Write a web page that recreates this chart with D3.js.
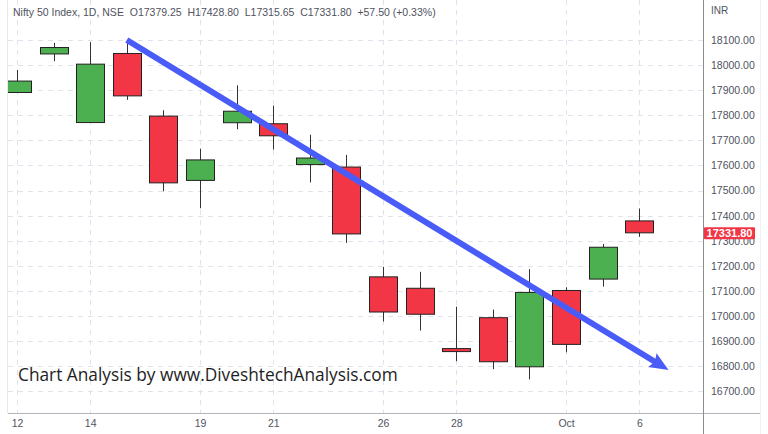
<!DOCTYPE html>
<html>
<head>
<meta charset="utf-8">
<script src="https://cdn.jsdelivr.net/npm/d3@7"></script>
<style>
  html,body{margin:0;padding:0;background:#fff;}
  svg{display:block;}
</style>
</head>
<body>
<svg id="chart" width="768" height="434"></svg>
<script>
// ---- data ----
const dates = ["Sep 12","Sep 13","Sep 14","Sep 15","Sep 16","Sep 19","Sep 20","Sep 21","Sep 22","Sep 23",
               "Sep 26","Sep 27","Sep 28","Sep 29","Sep 30","Oct 3","Oct 4","Oct 6"];
const opens  = [17890.85,18044.45,17771.15,18046.35,17796.80,17540.65,17770.40,17766.35,17603.70,17593.85,
                17156.30,17110.90,16870.55,16993.60,16798.05,17102.10,17147.45,17379.25];
const highs  = [17980.55,18088.30,18091.55,18096.15,17820.05,17667.20,17919.30,17838.35,17722.75,17642.15,
                17196.40,17176.45,17037.60,17026.05,17187.10,17114.65,17287.30,17428.80];
const lows   = [17889.15,18015.45,17771.15,17861.50,17497.25,17429.70,17744.40,17663.60,17532.45,17291.65,
                16978.30,16942.35,16820.40,16788.60,16747.70,16855.55,17117.30,17315.65];
const closes = [17936.35,18070.05,18003.75,17877.40,17530.85,17622.25,17816.25,17718.35,17629.80,17327.35,
                17016.30,17007.40,16858.60,16818.10,17094.35,16887.35,17274.30,17331.80];
const xTickIndex  = [0,2,5,7,10,12,15,17];
const xTickLabels = ["12","14","19","21","26","28","Oct","6"];
const yTicks = [16700,16800,16900,17000,17100,17200,17300,17400,17500,17600,17700,17800,17900,18000,18100];
const trendIndex = [3, 17.8];
const trendPrice = [18100, 16785];
const lastPrice = 17331.80;
const headerText = "Nifty 50 Index, 1D, NSE  O17379.25  H17428.80  L17315.65  C17331.80  +57.50 (+0.33%)";
const watermark = "Chart Analysis by www.DiveshtechAnalysis.com";

// ---- layout ----
const W = 768, H = 434;
const plotL = 8, plotR = 703, plotT = 0, plotB = 413;
const svg = d3.select("#chart");

const x = d3.scaleLinear().domain([0, 17]).range([17, 639.3]);
const y = d3.scaleLinear().domain([16700, 18100]).range([391.4, 40]);

const defs = svg.append("defs");
defs.append("clipPath").attr("id","plotclip").append("rect")
  .attr("x",plotL).attr("y",plotT).attr("width",plotR-plotL).attr("height",plotB-plotT);

const bodyW = 28;
const green = "#4caf50", red = "#f23645";

// grid
const grid = svg.append("g");
grid.selectAll("line.h").data(yTicks).join("line")
  .attr("x1",plotL).attr("x2",plotR)
  .attr("y1",d=>Math.round(y(d))+0.5).attr("y2",d=>Math.round(y(d))+0.5)
  .attr("stroke","#e0e3eb").attr("stroke-dasharray","5,5");
grid.selectAll("line.v").data(xTickIndex).join("line")
  .attr("x1",d=>Math.round(x(d))+0.5).attr("x2",d=>Math.round(x(d))+0.5)
  .attr("y1",plotT).attr("y2",plotB)
  .attr("stroke","#e0e3eb").attr("stroke-dasharray","5,5");

// frame lines
svg.append("line").attr("x1",7.5).attr("x2",7.5).attr("y1",0).attr("y2",plotB).attr("stroke","#e6e8ee");
svg.append("line").attr("x1",760.5).attr("x2",760.5).attr("y1",0).attr("y2",H).attr("stroke","#eef0f4");
svg.append("line").attr("x1",plotL).attr("x2",760).attr("y1",plotB+0.5).attr("y2",plotB+0.5).attr("stroke","#b2b5be").attr("stroke-width",1.2);
svg.append("line").attr("x1",plotR+0.5).attr("x2",plotR+0.5).attr("y1",0).attr("y2",H).attr("stroke","#8a8d96");

// candles
const candles = d3.range(dates.length).map(i=>({i,o:opens[i],h:highs[i],l:lows[i],c:closes[i]}));
const cg = svg.append("g").attr("clip-path","url(#plotclip)");
const cand = cg.selectAll("g.c").data(candles).join("g");
cand.append("line")
  .attr("x1",d=>Math.round(x(d.i))+0.5).attr("x2",d=>Math.round(x(d.i))+0.5)
  .attr("y1",d=>y(d.h)).attr("y2",d=>y(d.l))
  .attr("stroke","#333").attr("stroke-width",1);
cand.append("rect")
  .attr("x",d=>Math.round(x(d.i))-bodyW/2+0.5)
  .attr("width",bodyW)
  .attr("y",d=>y(Math.max(d.o,d.c)))
  .attr("height",d=>Math.max(1.5,Math.abs(y(d.o)-y(d.c))))
  .attr("fill",d=>d.c>=d.o?green:red)
  .attr("stroke","#222").attr("stroke-width",1);

// trend arrow
const ax1 = x(trendIndex[0]), ay1 = y(trendPrice[0]);
const ax2 = x(trendIndex[1]), ay2 = y(trendPrice[1]);
const ang = Math.atan2(ay2-ay1, ax2-ax1);
const headLen = 19, headHalf = 8;
const bx = ax2 - headLen*Math.cos(ang), by = ay2 - headLen*Math.sin(ang);
svg.append("line").attr("x1",ax1).attr("y1",ay1).attr("x2",bx+4*Math.cos(ang)).attr("y2",by+4*Math.sin(ang))
  .attr("stroke","#4a5cf7").attr("stroke-width",6).attr("stroke-linecap","butt");
const pts = [[ax2,ay2],
  [bx - headHalf*Math.sin(ang), by + headHalf*Math.cos(ang)],
  [bx + 3*Math.cos(ang), by + 3*Math.sin(ang)],
  [bx + headHalf*Math.sin(ang), by - headHalf*Math.cos(ang)]];
svg.append("path").attr("d","M"+pts.map(p=>p.join(",")).join("L")+"Z").attr("fill","#4a5cf7");

// y axis labels
const yAxis = d3.axisRight(y).tickValues(yTicks).tickSize(0).tickPadding(0).tickFormat(d3.format(".2f"));
const yg = svg.append("g").attr("transform",`translate(${plotR+8},0)`).call(yAxis);
yg.select(".domain").remove();
yg.selectAll("text").attr("font-family","'Liberation Sans', Arial, sans-serif").attr("font-size",10.5).attr("fill","#50535e");
svg.append("text").attr("x",711).attr("y",14).text("INR")
  .attr("font-family","'Liberation Sans', Arial, sans-serif").attr("font-size",10).attr("fill","#50535e");

// last price label
const ly = y(lastPrice);
svg.append("rect").attr("x",704).attr("y",ly-5.5).attr("width",51).attr("height",12).attr("fill",red).attr("rx",1);
svg.append("text").attr("x",729.5).attr("y",ly+4.3).attr("text-anchor","middle").text(d3.format(".2f")(lastPrice))
  .attr("font-family","'Liberation Sans', Arial, sans-serif").attr("font-size",11).attr("font-weight","bold").attr("fill","#fff");

// x axis labels
const xAxis = d3.axisBottom(x).tickValues(xTickIndex).tickSize(0).tickPadding(0)
  .tickFormat((d,k)=>xTickLabels[k]);
const xg = svg.append("g").attr("transform",`translate(0,${plotB+7})`).call(xAxis);
xg.select(".domain").remove();
xg.selectAll("text").attr("font-family","'Liberation Sans', Arial, sans-serif").attr("font-size",10.5).attr("fill","#50535e");

// header
svg.append("text").attr("x",13).attr("y",16).text(headerText).attr("xml:space","preserve")
  .style("white-space","pre")
  .attr("font-family","'Liberation Sans', Arial, sans-serif").attr("font-size",10.5).attr("fill","#50535e");

// watermark
svg.append("text").attr("x",18).attr("y",381).text(watermark)
  .attr("font-family","'Open Sans', 'Noto Sans', sans-serif").attr("font-size",17.3).attr("fill","#1e1e24");
</script>
</body>
</html>
